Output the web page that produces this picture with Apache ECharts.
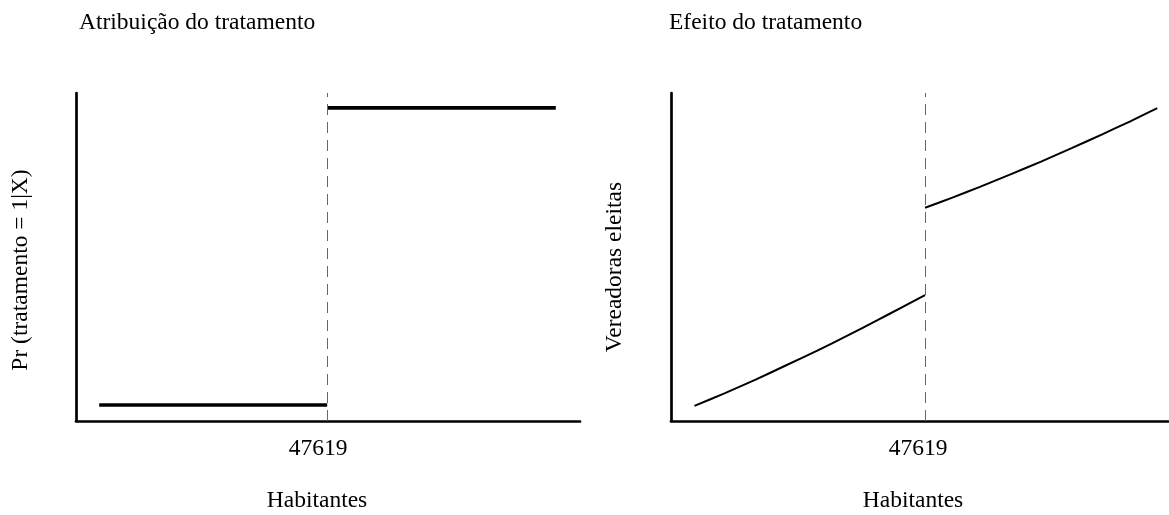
<!DOCTYPE html>
<html>
<head>
<meta charset="utf-8">
<script src="https://cdn.jsdelivr.net/npm/echarts@6/dist/echarts.min.js"></script>
<style>html,body{margin:0;padding:0;background:#fff}#c{width:1169px;height:515px}</style>
</head>
<body>
<div id="c"></div>
<script>
// ---- data ----
const cutoff = 47619;
const tickValues = [47619];
const assignLowX = [25000, 47619];
const assignLowY = [0, 0];
const assignHighX = [47619, 70300];
const assignHighY = [1, 1];
const effectLowX = [25000, 28000, 31000, 34000, 37000, 40000, 43000, 45300, 47619];
const effectLowY = [4.6, 8.5, 12.6, 17.0, 21.4, 26.0, 30.8, 34.6, 38.4];
const effectHighX = [47619, 50300, 53000, 56000, 59000, 62000, 65000, 67700, 70400];
const effectHighY = [65.0, 68.1, 71.4, 75.2, 79.1, 83.2, 87.4, 91.3, 95.4];
const titles = ['Atribuição do tratamento', 'Efeito do tratamento'];
const yNames = ['Pr (tratamento = 1|X)', 'Vereadoras eleitas'];
const xName = 'Habitantes';

const FONT = '"Liberation Serif", "Times New Roman", serif';
const FS = 23.5;
const zip = (xs, ys) => xs.map((x, i) => [x, ys[i]]);

const chart = echarts.init(document.getElementById('c'), null, {renderer: 'canvas'});

function xAxisDef(gi, min, max, padR) {
  return {
    type: 'value', gridIndex: gi, min: min, max: max,
    axisLine: {show: true, onZero: false, lineStyle: {color: '#000', width: 2.7, cap: 'round'}},
    axisTick: {show: false},
    splitLine: {show: false},
    axisLabel: {
      customValues: tickValues, showMinLabel: false, showMaxLabel: false,
      formatter: v => String(v),
      fontFamily: FONT, fontSize: FS, color: '#000', margin: 16,
      padding: [0, padR, 0, 0]
    }
  };
}
function yAxisDef(gi, min, max) {
  return {
    type: 'value', gridIndex: gi, min: min, max: max,
    axisLine: {show: true, onZero: false, lineStyle: {color: '#000', width: 2.7, cap: 'round'}},
    axisTick: {show: false}, axisLabel: {show: false}, splitLine: {show: false}
  };
}
const cutLine = {
  silent: true, symbol: ['none', 'none'], label: {show: false},
  lineStyle: {color: '#666', width: 1, type: [11, 7]},
  data: [{xAxis: cutoff}]
};

const textG = (txt, x, y, rot) => ({
  type: 'text', x: x, y: y, rotation: rot || 0,
  style: {text: txt, font: FS + 'px ' + FONT, fill: '#000',
          align: rot ? 'center' : (txt === xName ? 'center' : 'left'), verticalAlign: 'middle'}
});

chart.setOption({
  animation: false,
  backgroundColor: '#fff',
  grid: [
    {left: 76, width: 504, top: 93, height: 328},
    {left: 671, width: 498, top: 93, height: 328}
  ],
  xAxis: [xAxisDef(0, 22700, 72700, 18), xAxisDef(1, 22700, 71550, 14)],
  yAxis: [yAxisDef(0, -0.054, 1.05), yAxisDef(1, 0, 100)],
  series: [
    {type: 'line', xAxisIndex: 0, yAxisIndex: 0, data: zip(assignLowX, assignLowY),
     symbol: 'none', lineStyle: {color: '#000', width: 3.6}, markLine: cutLine},
    {type: 'line', xAxisIndex: 0, yAxisIndex: 0, data: zip(assignHighX, assignHighY),
     symbol: 'none', lineStyle: {color: '#000', width: 3.6}},
    {type: 'line', xAxisIndex: 1, yAxisIndex: 1, data: zip(effectLowX, effectLowY),
     symbol: 'none', smooth: 0.2, lineStyle: {color: '#000', width: 2}, markLine: cutLine},
    {type: 'line', xAxisIndex: 1, yAxisIndex: 1, data: zip(effectHighX, effectHighY),
     symbol: 'none', smooth: 0.2, lineStyle: {color: '#000', width: 2}}
  ],
  graphic: [
    textG(titles[0], 79, 23),
    textG(titles[1], 669, 23),
    textG(yNames[0], 21, 270, Math.PI / 2),
    textG(yNames[1], 615, 267, Math.PI / 2),
    textG(xName, 317, 501),
    textG(xName, 913, 501)
  ]
});
</script>
</body>
</html>
